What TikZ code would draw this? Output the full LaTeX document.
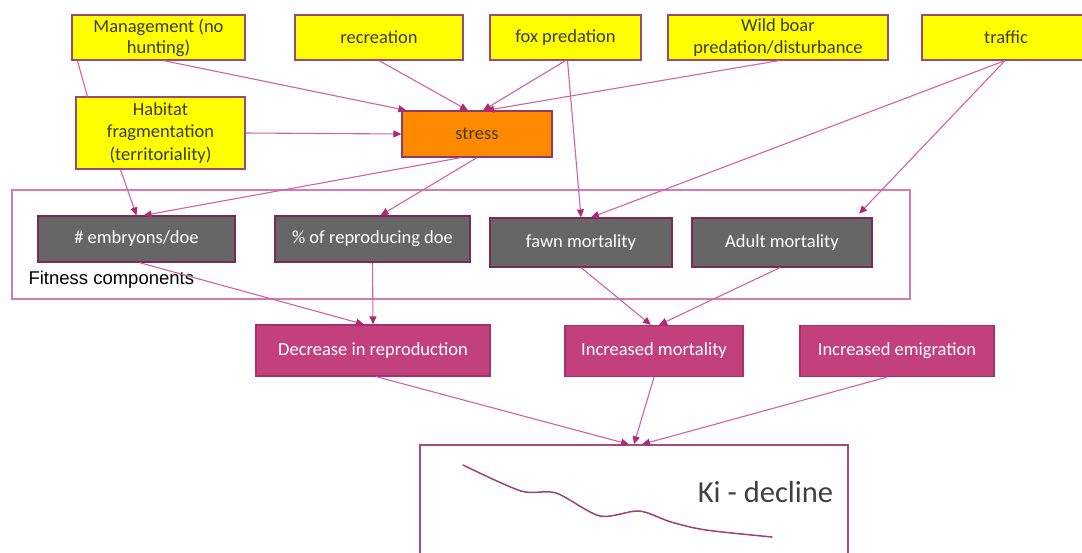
\documentclass[tikz,border=0pt]{standalone}
\usepackage{fontspec}
\setmainfont{Carlito}
\newfontfamily\arialf{Liberation Sans}
\usetikzlibrary{arrows.meta,calc}
\definecolor{yel}{HTML}{FFFF00}
\definecolor{ybord}{HTML}{9A4A78}
\definecolor{ytext}{HTML}{3C3C22}
\definecolor{grayfill}{HTML}{666666}
\definecolor{gbord}{HTML}{7A2B55}
\definecolor{magfill}{HTML}{C2407C}
\definecolor{mbord}{HTML}{A8306A}
\definecolor{orfill}{HTML}{FF8A00}
\definecolor{obord}{HTML}{8E3B66}
\definecolor{linec}{HTML}{D062A8}
\definecolor{tipc}{HTML}{B02878}
\definecolor{contc}{HTML}{D77AB4}
\definecolor{kibord}{HTML}{A84A80}
\definecolor{curvec}{HTML}{A0407A}
\definecolor{kitext}{HTML}{404040}
\begin{document}
\begin{tikzpicture}[x=1pt,y=-1pt,
  boxbase/.style={inner sep=0pt, align=center, line width=1.2pt},
  ybox/.style={boxbase, draw=ybord, fill=yel, text=ytext, font=\fontsize{18.5}{21}\selectfont},
  obox/.style={boxbase, draw=obord, fill=orfill, text=ytext, font=\fontsize{18.5}{21}\selectfont},
  gbox/.style={boxbase, draw=gbord, fill=grayfill, text=white, font=\fontsize{18.5}{21}\selectfont},
  mbox/.style={boxbase, draw=mbord, fill=magfill, text=white, font=\fontsize{18.5}{21}\selectfont},
  conn/.style={draw=linec, line width=1.1pt},
  arr/.style={conn, -{Triangle[length=8pt,width=7pt,color=tipc]}},
]
\useasboundingbox (0,0) rectangle (1082,552);
\clip (0,0) rectangle (1082,552);
\fill[white] (0,0) rectangle (1082,552);

% container
\draw[draw=contc, line width=1.1pt] (12,190) rectangle (910,299);
\node[anchor=west, font=\arialf\fontsize{18.5}{21}\selectfont, text=black] (fitlab) at (25,280) {Fitness components};

% top row
\node[ybox, minimum width=173pt, minimum height=45pt] (mgmt) at (158.5,37.5) {Management (no\\hunting)};
\node[ybox, minimum width=168pt, minimum height=45pt] (rec) at (379,37.5) {recreation};
\node[ybox, minimum width=151pt, minimum height=45pt] (fox) at (565.5,37.5) {fox predation};
\node[ybox, minimum width=220pt, minimum height=45pt, font=\fontsize{18.5}{22}\selectfont] (boar) at (778,37.5) {Wild boar\\predation/disturbance};
\node[ybox, minimum width=168pt, minimum height=45pt] (traffic) at (1006,37.5) {traffic};

% second row
\node[ybox, minimum width=169pt, minimum height=72pt, font=\fontsize{18.5}{22.5}\selectfont] (hab) at (160.5,133) {Habitat\\fragmentation\\(territoriality)};
\node[obox, minimum width=150pt, minimum height=46pt] (stress) at (477,134) {stress};

% fitness components
\node[gbox, minimum width=197pt, minimum height=46pt] (emb) at (136.5,239) {\# embryons/doe};
\node[gbox, minimum width=195pt, minimum height=46pt] (pct) at (372.5,239) {\% of reproducing doe};
\node[gbox, minimum width=182pt, minimum height=49pt] (fawn) at (581,242.5) {fawn mortality};
\node[gbox, minimum width=180pt, minimum height=49pt] (adult) at (782,242.5) {Adult mortality};

% outcomes
\node[mbox, minimum width=234pt, minimum height=51pt] (decr) at (373,350.5) {Decrease in reproduction};
\node[mbox, minimum width=178pt, minimum height=51pt] (incm) at (654,351) {Increased mortality};
\node[mbox, minimum width=194pt, minimum height=51pt] (inem) at (897,351) {Increased emigration};

% Ki decline box
\node[draw=kibord, line width=1.4pt, minimum width=428pt, minimum height=130pt, inner sep=0pt] (ki) at (634,510) {};
\node[font=\fontsize{30.5}{34}\selectfont, text=kitext] (kitxt) at (765.5,492) {Ki - decline};
\draw[draw=curvec, line width=1.5pt, line cap=round] plot[smooth, tension=0.5] coordinates {(463,465) (521,491) (556,493) (600,516) (639,511) (671,522) (706,530) (772,537)};

% connectors
\draw[conn] ([xshift=6pt]mgmt.south west) -- ([xshift=12pt]hab.north west);
\draw[arr] ([xshift=5pt]mgmt.south) -- ([xshift=5pt]stress.north west);
\draw[arr] (rec.south) -- ([xshift=-9pt]stress.north);
\draw[arr] (fox.south) -- ([xshift=6pt]stress.north);
\draw[arr] ([xshift=1pt]boar.south) -- ([xshift=9pt]stress.north);
\draw[arr] ([xshift=2pt]fox.south) -- (fawn.north);
\draw[arr] ([xshift=-1pt]traffic.south) -- ([xshift=10pt]fawn.north);
\draw[arr, shorten >=5pt] ([xshift=-1pt]traffic.south) -- ([xshift=-17pt]adult.north east);
\draw[arr] ([xshift=-40pt]hab.south) -- (emb.north);
\draw[arr] (hab.east) -- (stress.west);
\draw[arr] ([xshift=-16pt]stress.south) -- ([xshift=7pt]emb.north);
\draw[arr] (stress.south) -- ([xshift=8pt]pct.north);
\draw[arr] ([xshift=3pt]emb.south) -- ([xshift=-9pt]decr.north);
\draw[arr] (pct.south) -- (decr.north);
\draw[arr] (fawn.south) -- ([xshift=-3pt]incm.north);
\draw[arr] ([xshift=-2pt]adult.south) -- ([xshift=5pt]incm.north);
\draw[arr] ([xshift=3pt]decr.south) -- ([xshift=-5pt]ki.north);
\draw[arr] (incm.south) -- (ki.north);
\draw[arr] ([xshift=-10pt]inem.south) -- ([xshift=8pt]ki.north);
\end{tikzpicture}
\end{document}
